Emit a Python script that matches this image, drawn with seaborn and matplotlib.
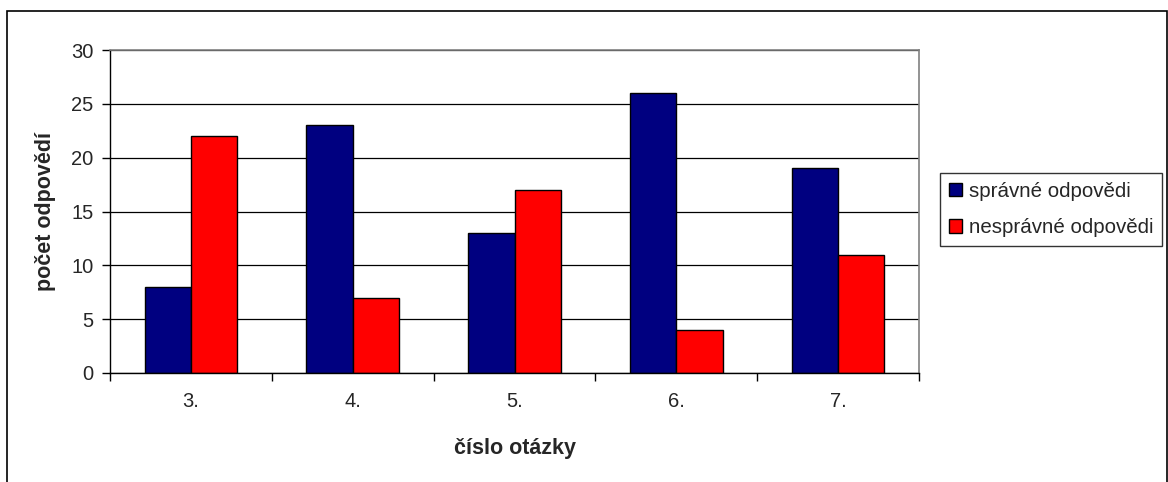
import matplotlib
matplotlib.use("Agg")
import matplotlib.pyplot as plt
from matplotlib.patches import Rectangle
import seaborn as sns
import pandas as pd

questions = ["3.", "4.", "5.", "6.", "7."]
correct = [8, 23, 13, 26, 19]
incorrect = [22, 7, 17, 4, 11]
series_names = ["správné odpovědi", "nesprávné odpovědi"]
y_ticks = [0, 5, 10, 15, 20, 25, 30]

df = pd.DataFrame({
    "otazka": questions * 2,
    "pocet": correct + incorrect,
    "serie": [series_names[0]] * len(questions) + [series_names[1]] * len(questions),
})

sns.set_theme(style="white")
plt.rcParams["font.family"] = ["Liberation Sans", "DejaVu Sans"]

fig = plt.figure(figsize=(11.68, 4.82), dpi=100)
ax = fig.add_axes([110 / 1168, 1 - 373 / 482, (919 - 110) / 1168, (373 - 50) / 482])

sns.barplot(data=df, x="otazka", y="pocet", hue="serie", order=questions,
            hue_order=series_names, palette=["#000080", "#FF0000"],
            width=2 / 3.5, edgecolor="black", linewidth=1.0, saturation=1,
            ax=ax, legend=True)

ax.set_ylim(0, 30)
ax.set_xlim(-0.5, len(questions) - 0.5)
ax.set_yticks(y_ticks)
ax.yaxis.grid(True, color="black", linewidth=0.9)
ax.set_axisbelow(True)

# category ticks on group boundaries, labels centred under groups
ax.set_xticks([i + 0.5 for i in range(-1, len(questions))], minor=False)
ax.set_xticklabels([])
ax.set_xticks(range(len(questions)), minor=True)
ax.set_xticklabels(questions, minor=True)
ax.tick_params(axis="x", which="major", direction="out", length=6, width=1,
               color="black", bottom=True)
ax.tick_params(axis="x", which="minor", length=0, labelsize=14.5, pad=14)
ax.tick_params(axis="y", direction="out", length=6, width=1, color="black",
               left=True, labelsize=14.5, pad=6)

for side in ("left", "bottom"):
    ax.spines[side].set_color("black")
    ax.spines[side].set_linewidth(1.0)
for side in ("top", "right"):
    ax.spines[side].set_color("#808080")
    ax.spines[side].set_linewidth(1.2)

ax.set_xlabel("číslo otázky", fontsize=15.5, fontweight="bold", labelpad=19)
ax.set_ylabel("počet odpovědí", fontsize=15.5, fontweight="bold", labelpad=11)

leg = ax.legend(loc="upper left", bbox_to_anchor=(940 / 1168, 1 - 173 / 482),
                bbox_transform=fig.transFigure, frameon=True, fancybox=False,
                edgecolor="black", fontsize=14.8, handlelength=0.65,
                handleheight=0.65, handletextpad=0.35, borderpad=0.42,
                labelspacing=0.85, borderaxespad=0)
leg.get_frame().set_linewidth(1.0)
for h in leg.legend_handles:
    h.set_edgecolor("black")
    h.set_linewidth(1.0)

# chart border
fig.patches.append(Rectangle((7 / 1168, -0.1), (1167 - 7) / 1168, 0.1 + (1 - 11 / 482),
                             transform=fig.transFigure, fill=False,
                             edgecolor="black", linewidth=1.2))

fig.savefig("out.png", dpi=100)
